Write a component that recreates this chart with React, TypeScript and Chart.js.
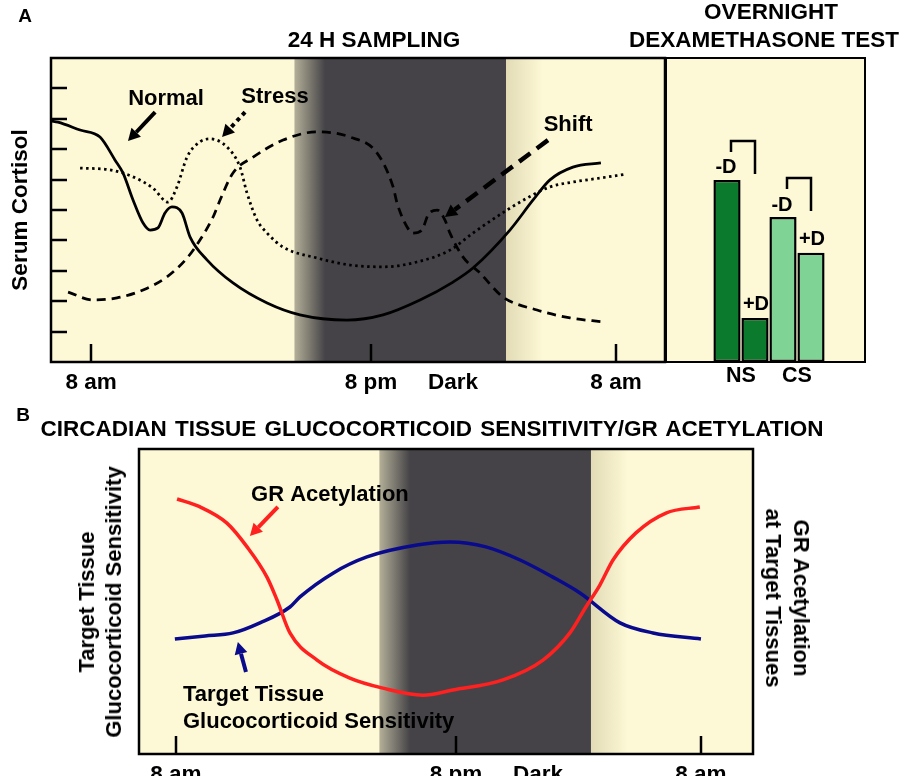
import React, { useEffect, useRef } from 'react';
import { Chart, registerables } from 'chart.js';

Chart.register(...registerables);

const FONT = '"Liberation Sans", Arial, Helvetica, sans-serif';
const CREAM = '#fdf8d5';
const DARK = '#454347';

// ---- shared time axis (hours after 8 am) ----
const xTickHours = [0, 12.8, 16.55, 24];
const xTickLabels = ['8 am', '8 pm', 'Dark', '8 am'];
const xTickMarked = [true, true, false, true];
const nightBand = [9.3, 10.7, 18.95, 20.65]; // fade-in start, full dark, dark end, dawn fade end

// ---- Panel A: serum cortisol over 24 h (arbitrary units) ----
const yTickLevels = [1, 2, 3, 4, 5, 6, 7, 8, 9];

const normalHours = [-1.83, -1.51, -0.5, 0.41, 1.1, 1.46, 1.92, 2.38, 2.7, 3.06, 3.38, 3.7, 4.16, 4.53, 5.3, 6.49, 8.05, 9.55, 11.7, 13.35, 15.04, 16.55, 17.46, 19.15, 20.21, 20.98, 22.03, 23.31];
const normalLevel = [7.93, 7.89, 7.63, 7.4, 6.64, 6.22, 5.33, 4.57, 4.34, 4.41, 4.9, 5.1, 4.9, 4.11, 3.36, 2.6, 1.94, 1.55, 1.38, 1.55, 2.04, 2.63, 3.09, 4.34, 5.33, 5.99, 6.41, 6.55];

const stressHours = [-0.5, 0.87, 1.92, 2.83, 3.52, 3.93, 4.39, 4.98, 5.44, 6.22, 6.81, 7.13, 7.59, 8.05, 8.78, 10.33, 11.84, 13.35, 14.9, 16.41, 17.46, 19.02, 19.93, 20.98, 22.03, 23.27, 24.46];
const stressLevel = [6.38, 6.32, 6.09, 5.72, 5.26, 5.76, 6.74, 7.24, 7.34, 7.07, 6.41, 5.56, 4.67, 4.24, 3.78, 3.42, 3.19, 3.13, 3.29, 3.68, 4.24, 5.0, 5.39, 5.76, 5.92, 6.05, 6.18];

const shiftHours = [-1.05, 0.09, 1.19, 2.38, 3.47, 4.39, 4.98, 5.58, 5.9, 6.49, 7.41, 8.78, 10.33, 11.84, 13.07, 13.81, 13.99, 14.45, 14.72, 15.13, 15.41, 15.82, 16.18, 16.41, 17.01, 17.78, 18.83, 20.39, 21.9, 23.41];
const shiftLevel = [2.3, 2.04, 2.11, 2.37, 2.8, 3.42, 4.01, 4.77, 5.33, 6.22, 6.74, 7.3, 7.57, 7.4, 6.88, 5.76, 5.23, 4.44, 4.24, 4.34, 4.84, 5.0, 4.67, 4.24, 3.45, 2.93, 2.14, 1.71, 1.45, 1.32];

// annotations of panel A (text position, arrow from, arrow to) in data units
const noteNormal = { text: 'Normal', at: [3.43, 8.65], from: [2.93, 8.22], to: [1.69, 7.27] };
const noteStress = { text: 'Stress', at: [8.41, 8.72], from: [7.04, 8.22], to: [5.99, 7.4] };
const noteShift = { text: 'Shift', at: [21.81, 7.8], from: [20.89, 7.3], to: [16.18, 4.77] };

// ---- Panel A right: overnight dexamethasone test ----
const dexGroups = ['NS', 'CS'];
const withoutDex = [5.99, 4.77];
const withDex = [1.45, 3.59];
const groupColors = ['#0b7a2d', '#7fd394'];

// ---- Panel B: tissue sensitivity / GR acetylation ----
const acetylHours = [0.05, 1.1, 2.33, 3.25, 4.16, 4.62, 5.21, 6.45, 7.95, 9.46, 11.29, 12.66, 14.95, 16.78, 18.01, 18.74, 19.38, 19.98, 21.03, 22.4, 23.95];
const acetylLevel = [8.36, 8.1, 7.57, 6.79, 5.8, 5.05, 3.97, 3.08, 2.49, 2.16, 1.93, 2.1, 2.43, 3.08, 3.97, 4.82, 5.54, 6.36, 7.25, 7.9, 8.1];

const sensHours = [-0.05, 1.33, 2.61, 3.84, 5.21, 5.67, 7.18, 8.73, 11.02, 12.53, 14.17, 15.73, 17.23, 18.47, 20.3, 21.81, 24.0];
const sensLevel = [3.77, 3.87, 3.97, 4.3, 4.82, 5.15, 5.93, 6.46, 6.85, 6.95, 6.79, 6.36, 5.8, 5.28, 4.3, 3.97, 3.77];

const noteAcetyl = { text: 'GR Acetylation', at: [7.04, 8.49], from: [4.66, 8.1], to: [3.38, 7.15] };
const noteSens = { lines: ['Target Tissue', 'Glucocorticoid Sensitivity'], at: [0.32, 1.93, 1.05], from: [3.2, 2.69], to: [2.83, 3.67] };

function zip(xs: number[], ys: number[]) {
  return xs.map((x, i) => ({ x, y: ys[i] }));
}

function drawArrow(ctx: CanvasRenderingContext2D, x1: number, y1: number, x2: number, y2: number, color: string, style: string, width = 4) {
  const ang = Math.atan2(y2 - y1, x2 - x1);
  const head = 12;
  const half = 6.5;
  const bx = x2 - head * Math.cos(ang);
  const by = y2 - head * Math.sin(ang);
  ctx.save();
  ctx.strokeStyle = color;
  ctx.fillStyle = color;
  ctx.lineWidth = width;
  if (style === 'dot') ctx.setLineDash([4, 4]);
  else if (style === 'dash') ctx.setLineDash([14, 8]);
  ctx.beginPath();
  ctx.moveTo(x1, y1);
  ctx.lineTo(bx, by);
  ctx.stroke();
  ctx.setLineDash([]);
  ctx.beginPath();
  ctx.moveTo(x2, y2);
  ctx.lineTo(bx + half * Math.sin(ang), by - half * Math.cos(ang));
  ctx.lineTo(bx - half * Math.sin(ang), by + half * Math.cos(ang));
  ctx.closePath();
  ctx.fill();
  ctx.restore();
}

function panelPlugin(withYTicks: boolean, notes: (ctx: CanvasRenderingContext2D, px: (h: number) => number, py: (v: number) => number) => void) {
  return {
    id: 'panel',
    beforeDatasetsDraw(chart: any) {
      const { ctx, chartArea: a, scales } = chart;
      const x = scales.x;
      ctx.save();
      ctx.fillStyle = CREAM;
      ctx.fillRect(a.left, a.top, a.width, a.height);
      const p = nightBand.map((h) => x.getPixelForValue(h));
      const span = p[3] - p[0];
      const t = (v: number) => Math.min(1, Math.max(0, (v - p[0]) / span));
      const g = ctx.createLinearGradient(p[0], 0, p[3], 0);
      g.addColorStop(0, '#b3af98');
      g.addColorStop(t(p[1]), DARK);
      g.addColorStop(t(p[2]), DARK);
      g.addColorStop(t(p[2]) + 0.002, '#e2dbb6');
      g.addColorStop(1, CREAM);
      ctx.fillStyle = g;
      ctx.fillRect(p[0], a.top, span, a.height);
      ctx.restore();
    },
    afterDraw(chart: any) {
      const { ctx, chartArea: a, scales } = chart;
      const x = scales.x;
      const y = scales.y;
      ctx.save();
      ctx.strokeStyle = '#000';
      ctx.lineWidth = 2.5;
      ctx.beginPath();
      xTickHours.forEach((h, i) => {
        if (!xTickMarked[i]) return;
        const px = Math.round(x.getPixelForValue(h));
        ctx.moveTo(px, a.bottom);
        ctx.lineTo(px, a.bottom - 18);
      });
      if (withYTicks) {
        yTickLevels.forEach((v) => {
          const py = Math.round(y.getPixelForValue(v));
          ctx.moveTo(a.left, py);
          ctx.lineTo(a.left + 16, py);
        });
      }
      ctx.stroke();
      ctx.strokeRect(a.left, a.top, a.width, a.height);
      ctx.restore();
      ctx.save();
      notes(ctx, (h) => x.getPixelForValue(h), (v) => y.getPixelForValue(v));
      ctx.restore();
    },
  };
}

function timeAxis(min: number, max: number, height: number, padding: number) {
  return {
    type: 'linear' as const,
    min,
    max,
    afterFit(s: any) {
      s.height = height;
    },
    afterBuildTicks(s: any) {
      s.ticks = xTickHours.map((v) => ({ value: v }));
    },
    grid: { display: false, drawTicks: false },
    border: { display: false },
    ticks: {
      autoSkip: false,
      maxRotation: 0,
      padding,
      color: '#000',
      font: { family: FONT, size: 22.5, weight: 'bold' as const },
      callback: (_v: any, i: number) => xTickLabels[i],
    },
  };
}

function makePanelA(canvas: HTMLCanvasElement) {
  const notes = (ctx: CanvasRenderingContext2D, px: (h: number) => number, py: (v: number) => number) => {
    ctx.fillStyle = '#000';
    ctx.font = `bold 22px ${FONT}`;
    ctx.textAlign = 'center';
    ctx.textBaseline = 'middle';
    [noteNormal, noteStress, noteShift].forEach((n) => ctx.fillText(n.text, px(n.at[0]), py(n.at[1])));
    drawArrow(ctx, px(noteNormal.from[0]), py(noteNormal.from[1]), px(noteNormal.to[0]), py(noteNormal.to[1]), '#000', 'solid', 4);
    drawArrow(ctx, px(noteStress.from[0]), py(noteStress.from[1]), px(noteStress.to[0]), py(noteStress.to[1]), '#000', 'dot', 4);
    drawArrow(ctx, px(noteShift.from[0]), py(noteShift.from[1]), px(noteShift.to[0]), py(noteShift.to[1]), '#000', 'dash', 4.5);
  };
  const common = { borderColor: '#000', borderWidth: 2.75, pointRadius: 0, fill: false, cubicInterpolationMode: 'monotone' as const };
  return new Chart(canvas, {
    type: 'line',
    data: {
      datasets: [
        { label: 'Normal', data: zip(normalHours, normalLevel), ...common },
        { label: 'Stress', data: zip(stressHours, stressLevel), ...common, borderDash: [2.5, 3.5] },
        { label: 'Shift', data: zip(shiftHours, shiftLevel), ...common, borderDash: [9, 6] },
      ],
    },
    options: {
      animation: false,
      responsive: false,
      maintainAspectRatio: false,
      layout: { padding: { left: 51, top: 58, right: 15, bottom: 0 } },
      plugins: { legend: { display: false }, tooltip: { enabled: false } },
      scales: {
        x: timeAxis(-1.83, 26.24, 38, 7),
        y: { display: false, min: 0, max: 10 },
      },
    },
    plugins: [panelPlugin(true, notes)],
  });
}

function makeBars(canvas: HTMLCanvasElement) {
  const labels = {
    id: 'dexLabels',
    afterDatasetsDraw(chart: any) {
      const { ctx } = chart;
      const m0 = chart.getDatasetMeta(0).data;
      const m1 = chart.getDatasetMeta(1).data;
      ctx.save();
      ctx.fillStyle = '#000';
      ctx.strokeStyle = '#000';
      ctx.font = `bold 20px ${FONT}`;
      ctx.textAlign = 'center';
      ctx.textBaseline = 'middle';
      ctx.lineWidth = 2.5;
      dexGroups.forEach((_g, i) => {
        const a = m0[i];
        const b = m1[i];
        ctx.fillText('-D', a.x - 1, a.y - 12);
        ctx.fillText('+D', b.x + 1, b.y - 13);
        const top = a.y - 39;
        const lx = a.x + 4;
        const rx = b.x;
        ctx.beginPath();
        ctx.moveTo(lx, top + 11);
        ctx.lineTo(lx, top);
        ctx.lineTo(rx, top);
        ctx.lineTo(rx, top + 33);
        ctx.stroke();
      });
      ctx.restore();
    },
  };
  const barCommon = { borderColor: '#000', borderWidth: 2.5, borderSkipped: false as const, categoryPercentage: 1, barPercentage: 0.97, backgroundColor: groupColors };
  return new Chart(canvas, {
    type: 'bar',
    data: {
      labels: dexGroups,
      datasets: [
        { label: '-D', data: withoutDex, ...barCommon },
        { label: '+D', data: withDex, ...barCommon },
      ],
    },
    options: {
      animation: false,
      responsive: false,
      maintainAspectRatio: false,
      layout: { padding: { left: 47, top: 58, right: 39, bottom: 0 } },
      plugins: { legend: { display: false }, tooltip: { enabled: false } },
      scales: {
        x: {
          afterFit(s: any) {
            s.height = 38;
          },
          grid: { display: false, drawTicks: false },
          border: { display: false },
          ticks: { padding: 1, color: '#000', font: { family: FONT, size: 21.5, weight: 'bold' } },
        },
        y: { display: false, min: 0, max: 10 },
      },
    },
    plugins: [labels],
  });
}

function makePanelB(canvas: HTMLCanvasElement) {
  const notes = (ctx: CanvasRenderingContext2D, px: (h: number) => number, py: (v: number) => number) => {
    ctx.fillStyle = '#000';
    ctx.font = `bold 22px ${FONT}`;
    ctx.textBaseline = 'middle';
    ctx.textAlign = 'center';
    ctx.fillText(noteAcetyl.text, px(noteAcetyl.at[0]), py(noteAcetyl.at[1]));
    ctx.textAlign = 'left';
    ctx.fillText(noteSens.lines[0], px(noteSens.at[0]), py(noteSens.at[1]));
    ctx.fillText(noteSens.lines[1], px(noteSens.at[0]), py(noteSens.at[2]));
    drawArrow(ctx, px(noteAcetyl.from[0]), py(noteAcetyl.from[1]), px(noteAcetyl.to[0]), py(noteAcetyl.to[1]), '#ff2020', 'solid', 4);
    drawArrow(ctx, px(noteSens.from[0]), py(noteSens.from[1]), px(noteSens.to[0]), py(noteSens.to[1]), '#0a0a8c', 'solid', 4);
  };
  const common = { borderWidth: 3.5, pointRadius: 0, fill: false, cubicInterpolationMode: 'monotone' as const };
  return new Chart(canvas, {
    type: 'line',
    data: {
      datasets: [
        { label: 'GR Acetylation', data: zip(acetylHours, acetylLevel), borderColor: '#ff2020', ...common },
        { label: 'Target Tissue Glucocorticoid Sensitivity', data: zip(sensHours, sensLevel), borderColor: '#0a0a8c', ...common },
      ],
    },
    options: {
      animation: false,
      responsive: false,
      maintainAspectRatio: false,
      layout: { padding: { left: 139, top: 49, right: 153, bottom: 0 } },
      plugins: { legend: { display: false }, tooltip: { enabled: false } },
      scales: {
        x: timeAxis(-1.69, 26.38, 22, 7),
        y: { display: false, min: 0, max: 10 },
      },
    },
    plugins: [panelPlugin(false, notes)],
  });
}

const abs = (left: number, top: number, size: number, extra: React.CSSProperties = {}): React.CSSProperties => ({
  position: 'absolute',
  left,
  top,
  fontSize: size,
  lineHeight: 1,
  whiteSpace: 'nowrap',
  transform: 'translate(-50%, -50%)',
  ...extra,
});

export default function App() {
  const aRef = useRef<HTMLCanvasElement>(null);
  const barRef = useRef<HTMLCanvasElement>(null);
  const bRef = useRef<HTMLCanvasElement>(null);

  useEffect(() => {
    const charts = [makePanelA(aRef.current!), makeBars(barRef.current!), makePanelB(bRef.current!)];
    return () => charts.forEach((c) => c.destroy());
  }, []);

  return (
    <div
      style={{
        position: 'absolute',
        left: 0,
        top: 0,
        width: 906,
        height: 776,
        background: '#fff',
        overflow: 'hidden',
        fontFamily: FONT,
        fontWeight: 'bold',
        color: '#000',
      }}
    >
      <div style={{ position: 'absolute', left: 50, top: 57, width: 816, height: 306, boxSizing: 'border-box', border: '2px solid #000', background: CREAM }} />
      <div style={{ position: 'absolute', left: 664, top: 57, width: 2.5, height: 306, background: '#000' }} />
      <canvas ref={aRef} width={680} height={400} style={{ position: 'absolute', left: 0, top: 0, width: 680, height: 400 }} />
      <canvas ref={barRef} width={198} height={400} style={{ position: 'absolute', left: 666, top: 0, width: 198, height: 400 }} />
      <canvas ref={bRef} width={906} height={376} style={{ position: 'absolute', left: 0, top: 400, width: 906, height: 376 }} />

      <div style={abs(25, 15, 19)}>A</div>
      <div style={abs(374, 40, 22.5)}>24 H SAMPLING</div>
      <div style={abs(771, 12, 22.5)}>OVERNIGHT</div>
      <div style={abs(764, 40, 22.5)}>DEXAMETHASONE TEST</div>
      <div style={abs(20, 210, 22.5, { transform: 'translate(-50%, -50%) rotate(-90deg)' })}>Serum Cortisol</div>

      <div style={abs(23, 414, 19)}>B</div>
      <div style={abs(432, 429, 22.5, { wordSpacing: 2 })}>CIRCADIAN TISSUE GLUCOCORTICOID SENSITIVITY/GR ACETYLATION</div>
      <div style={abs(100, 602, 22, { transform: 'translate(-50%, -50%) rotate(-90deg)', lineHeight: '27px', textAlign: 'center' })}>
        Target Tissue
        <br />
        Glucocorticoid Sensitivity
      </div>
      <div style={abs(787, 598, 22, { transform: 'translate(-50%, -50%) rotate(90deg)', lineHeight: '28px', textAlign: 'center' })}>
        GR Acetylation
        <br />
        at Target Tissues
      </div>
    </div>
  );
}
